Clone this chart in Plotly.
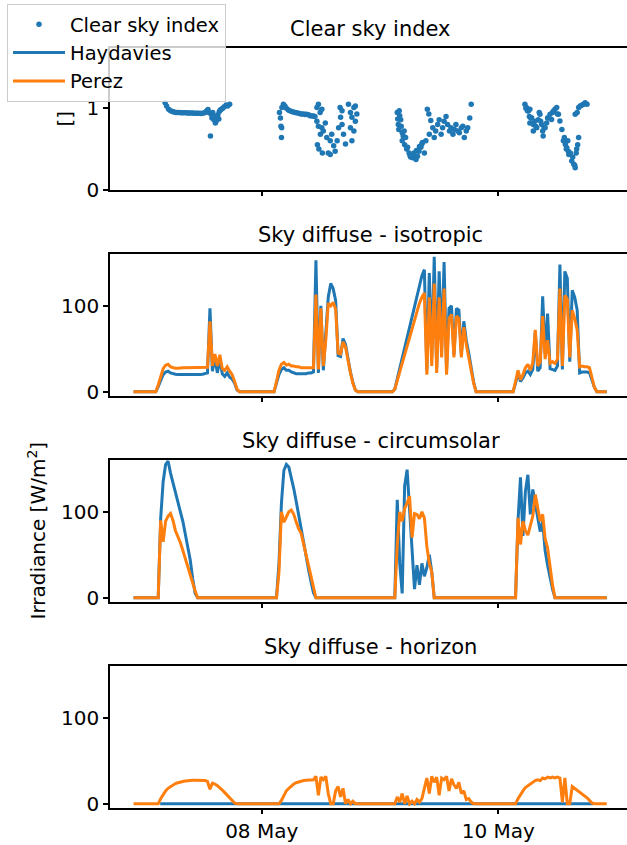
import numpy as np
import pandas as pd
import plotly.graph_objects as go

# ---------------- data (hours after 2019-05-07 00:00) ----------------
BASE = pd.Timestamp("2019-05-07 00:00")
day_windows = [(2.0, 19.5), (26.0, 43.5), (50.5, 68.0), (74.5, 92.5)]
hours = [-2.0]
for a, b in day_windows:
    hours += list(np.arange(a, b + 0.01, 0.5))
hours += [94.0]

iso_perez = ([0] +
    [0, 0, 8, 18, 27, 31, 32, 29, 28, 27.5, 27.5, 28, 28, 28, 28, 28, 28, 28, 28, 28, 28, 28, 28.5, 82, 30, 44, 30, 43, 27, 25, 29, 24, 20, 12, 3, 0] +
    [0, 0, 12, 25, 32, 34, 31, 32, 30, 30, 29, 29, 28, 28, 28, 28, 28, 28, 113, 26, 97, 30, 60, 103, 100, 104, 96, 45, 44, 58, 52, 35, 22, 10, 2, 0] +
    [0, 3, 13, 24, 33, 45, 55, 65, 75, 85, 93, 103, 110, 115, 20, 110, 30, 126, 22, 110, 40, 120, 20, 85, 90, 40, 88, 85, 40, 75, 55, 40, 25, 10, 0, 0] +
    [0, 0, 12, 25, 14, 20, 28, 32, 25, 34, 72, 30, 35, 88, 38, 60, 33, 35, 33, 38, 120, 30, 112, 108, 40, 95, 85, 72, 29, 30, 29, 29, 28, 15, 5, 0, 0] +
    [0])
iso_haydavies = ([0] +
    [0, 0, 6, 14, 20, 23, 24, 22, 21, 20.5, 20, 20, 19.5, 19.5, 19.5, 19.5, 19.5, 20, 20, 20, 20.5, 21, 22, 97, 24, 40, 22, 38, 21, 18, 22, 17, 15, 10, 2, 0] +
    [0, 0, 10, 20, 26, 28, 25, 25, 23, 22, 21, 21, 21, 21, 21, 22, 22, 23, 153, 22, 100, 25, 65, 110, 126, 120, 106, 42, 41, 62, 55, 37, 23, 11, 2, 0] +
    [0, 3, 15, 28, 40, 52, 63, 74, 86, 98, 110, 122, 135, 142, 25, 138, 40, 157, 28, 140, 50, 151, 25, 97, 100, 43, 97, 95, 44, 82, 60, 45, 27, 11, 0, 0] +
    [0, 0, 10, 22, 12, 16, 22, 24, 20, 26, 70, 24, 28, 111, 45, 91, 27, 26, 25, 30, 148, 26, 140, 132, 35, 118, 110, 95, 22, 23, 23, 23, 22, 13, 5, 0, 0] +
    [0])

circ_perez = ([0] +
    [0, 0, 0, 90, 65, 89, 95, 98, 90, 78, 72, 64, 55, 45, 35, 26, 18, 8, 0, 0, 0, 0, 0, 0, 0, 0, 0, 0, 0, 0, 0, 0, 0, 0, 0, 0] +
    [0, 0, 0, 30, 100, 88, 95, 100, 102, 97, 88, 80, 75, 62, 50, 37, 24, 11, 0, 0, 0, 0, 0, 0, 0, 0, 0, 0, 0, 0, 0, 0, 0, 0, 0, 0] +
    [0, 0, 62, 100, 89, 104, 110, 118, 70, 98, 97, 92, 100, 93, 60, 40, 30, 0, 0, 0, 0, 0, 0, 0, 0, 0, 0, 0, 0, 0, 0, 0, 0, 0, 0, 0] +
    [0, 0, 0, 93, 62, 89, 78, 73, 85, 95, 120, 105, 89, 97, 69, 58, 35, 15, 0, 0, 0, 0, 0, 0, 0, 0, 0, 0, 0, 0, 0, 0, 0, 0, 0, 0, 0] +
    [0])
circ_haydavies = ([0] +
    [0, 0, 0, 92, 135, 155, 159, 145, 133, 123, 112, 100, 89, 75, 60, 44, 22, 5, 0, 0, 0, 0, 0, 0, 0, 0, 0, 0, 0, 0, 0, 0, 0, 0, 0, 0] +
    [0, 0, 0, 40, 110, 148, 155, 152, 140, 127, 112, 96, 80, 64, 46, 33, 19, 6, 0, 0, 0, 0, 0, 0, 0, 0, 0, 0, 0, 0, 0, 0, 0, 0, 0, 0] +
    [0, 0, 114, 40, 5, 130, 149, 100, 55, 10, 38, 15, 40, 25, 35, 50, 30, 0, 0, 0, 0, 0, 0, 0, 0, 0, 0, 0, 0, 0, 0, 0, 0, 0, 0, 0] +
    [0, 0, 0, 90, 140, 72, 124, 143, 97, 126, 108, 95, 77, 89, 55, 38, 23, 10, 0, 0, 0, 0, 0, 0, 0, 0, 0, 0, 0, 0, 0, 0, 0, 0, 0, 0, 0] +
    [0])

horizon_perez = ([0] +
    [0, 0, 0, 6, 11, 15, 18, 20, 22, 23.5, 24.5, 25.5, 26, 26.5, 27, 27, 27.5, 27.5, 27.5, 27.5, 27, 27, 26, 17, 24, 23, 21, 19, 16, 13, 10, 7, 4, 1, 0, 0] +
    [0, 0, 0, 0, 4, 10, 15, 18, 21, 23, 24.5, 25.5, 26.5, 27, 27.5, 27.5, 28, 28, 32, 10, 31, 28, 32, 12, 0, 0, 15, 20, 8, 18, 0, 5, 0, 3, 0, 0] +
    [0, 0, 8, 2, 12, 0, 9, 0, 3, 0, 5, 2, 6, 20, 30, 12, 32, 25, 31, 10, 30, 28, 32, 15, 29, 22, 18, 25, 12, 15, 5, 6, 2, 0, 0, 0] +
    [0, 0, 0, 6, 11, 15, 19, 21, 24, 25, 27, 28, 27, 30, 29, 31, 30, 31, 30, 31, 30, 2, 30, 0, 0, 20, 18, 16, 14, 12, 9, 7, 4, 1, 0, 0, 0] +
    [0])
hd_horizon_hours = [3.4, 91.2]
horizon_haydavies = [0, 0]

csi_hours = [
    4.4, 4.7, 5.1, 5.5, 5.9, 6.2, 6.6, 6.9, 7.3, 7.6, 8.0, 8.3, 8.7, 9.0, 9.3, 9.6, 10.0, 10.3, 10.7, 11.0,
    11.4, 11.7, 12.0, 12.4, 12.8, 13.1, 13.25, 13.6, 13.7, 13.9, 14.05, 14.3, 14.45, 14.6, 14.75, 14.9, 15.1,
    15.3, 15.4, 15.6, 15.8, 16.1, 16.4, 16.8, 17.1, 17.5,
    27.6, 27.8, 27.9, 28.0, 28.05, 28.1, 28.4, 28.7, 29.0, 29.4, 29.7, 30.1, 30.4, 30.8, 31.1, 31.5, 31.8,
    32.1, 32.5, 32.8, 33.1, 33.5, 33.8, 34.2, 34.5, 34.8, 35.2, 35.2, 35.3, 35.5, 35.5, 35.6, 35.85, 35.9,
    36.2, 36.2, 36.3, 36.5, 36.9, 37.2, 37.5, 37.9, 37.9, 38.2, 38.6, 38.9, 39.3, 39.6, 39.9, 40.0, 40.3,
    40.3, 40.6, 41.0, 41.6, 42.0, 42.0, 42.3, 42.3, 42.7, 43.0, 42.7, 43.0, 43.3,
    51.5, 51.6, 51.7, 51.8, 51.9, 52.0, 52.2, 52.3, 52.5, 52.5, 52.7, 52.9, 53.0, 53.2, 53.4, 53.6, 53.9,
    54.1, 54.2, 54.6, 54.8, 54.9, 55.3, 55.4, 55.6, 55.9, 56.0, 56.3, 56.5, 56.6, 57.0, 57.3, 57.6, 57.9,
    58.0, 58.3, 58.7, 59.0, 59.3, 59.7, 60.0, 60.4, 60.7, 61.0, 61.4, 61.7, 62.1, 62.4, 62.8, 63.1, 63.4,
    63.8, 64.1, 64.5, 64.8, 65.1, 65.5, 65.8, 66.2, 66.5,
    77.4, 77.6, 77.7, 77.9, 78.1, 78.3, 78.4, 78.4, 78.6, 78.75, 79.1, 79.1, 79.4, 79.6, 79.8, 80.1, 80.3,
    80.45, 80.6, 80.8, 81.0, 81.1, 81.3, 81.5, 81.8, 82.0, 82.15, 82.5, 82.8, 83.0, 83.2, 83.5, 83.85, 84.0,
    84.2, 84.5, 84.9, 85.2, 85.4, 85.6, 85.8, 85.9, 86.1, 86.2, 86.3, 86.6, 86.9, 87.1, 87.3, 87.5, 87.6,
    87.8, 87.9, 88.1, 88.3, 87.6, 88.0, 88.3, 88.6, 89.0, 89.3, 89.6, 90.0]
csi_values = [
    1.07, 1.03, 0.99, 0.97, 0.96, 0.955, 0.95, 0.95, 0.948, 0.947, 0.946, 0.945, 0.945, 0.944, 0.943, 0.943,
    0.942, 0.94, 0.94, 0.94, 0.94, 0.938, 0.94, 0.945, 0.967, 0.985, 0.95, 0.66, 0.93, 0.88, 0.95, 0.86, 0.9,
    0.82, 0.84, 0.88, 0.92, 0.87, 0.96, 0.98, 0.99, 1.0, 1.02, 1.04, 1.03, 1.05,
    0.95, 0.88, 0.78, 0.64, 0.76, 1.01, 1.05, 1.03, 1.0, 0.98, 0.97, 0.96, 0.955, 0.95, 0.945, 0.94, 0.935,
    0.93, 0.93, 0.925, 0.926, 0.92, 0.91, 0.905, 0.905, 0.9, 1.01, 0.84, 0.55, 1.05, 0.78, 0.5, 0.95, 0.68,
    0.99, 0.76, 0.45, 0.72, 0.82, 0.64, 0.45, 0.6, 0.43, 0.68, 0.54, 0.47, 0.6, 0.76, 1.01, 0.89, 0.8,
    0.97, 0.68, 0.56, 1.05, 0.95, 0.76, 0.89, 0.6, 0.72, 0.84, 1.01, 1.03, 0.93,
    0.95, 0.87, 0.8, 0.74, 0.97, 0.91, 0.86, 0.78, 0.7, 0.6, 0.66, 0.72, 0.55, 0.64, 0.5, 0.52, 0.45,
    0.42, 0.4, 0.39, 0.43, 0.45, 0.37, 0.48, 0.41, 0.47, 0.53, 0.52, 0.56, 0.58, 0.45, 0.6, 0.99, 0.93,
    0.68, 0.85, 0.76, 0.64, 0.72, 0.8, 0.86, 0.68, 0.76, 0.84, 0.9, 0.8, 0.72, 0.76, 0.68, 0.74, 0.8,
    0.72, 0.7, 0.76, 0.78, 0.64, 0.72, 0.76, 0.88, 1.05,
    1.05, 1.0, 1.01, 0.97, 0.967, 0.9, 0.988, 0.82, 0.88, 0.885, 0.8, 0.72, 0.84, 0.78, 0.76, 0.86, 0.95,
    0.926, 0.84, 0.8, 0.72, 0.66, 0.76, 0.76, 0.82, 0.88, 0.885, 0.926, 0.864, 0.95, 0.967, 0.988, 1.01, 0.93,
    0.926, 0.844, 0.74, 0.6, 0.64, 0.556, 0.5, 0.515, 0.6, 0.47, 0.43, 0.45, 0.35, 0.4, 0.31, 0.3, 0.268,
    0.45, 0.5, 0.55, 0.64, 0.926, 0.95, 1.01, 1.03, 1.04, 1.05, 1.07, 1.05]

panel_titles = ["Clear sky index", "Sky diffuse - isotropic",
                "Sky diffuse - circumsolar", "Sky diffuse - horizon"]
x_tick_dates = ["2019-05-08", "2019-05-10"]
x_tick_text = ["08 May", "10 May"]

# ---------------- figure ----------------
BLUE = "#1f77b4"
ORANGE = "#ff7f0e"
W, H = 627, 845
FONT = "DejaVu Sans"
LW = 3


def to_time(hs):
    return BASE + pd.to_timedelta(np.asarray(hs, dtype=float), unit="h")


t = to_time(hours)
fig = go.Figure()

fig.add_trace(go.Scatter(x=to_time(csi_hours), y=csi_values, mode="markers",
                         marker=dict(color=BLUE, size=5.5), name="Clear sky index",
                         xaxis="x", yaxis="y"))
fig.add_trace(go.Scatter(x=t, y=iso_haydavies, mode="lines", line=dict(color=BLUE, width=LW),
                         name="Haydavies", xaxis="x2", yaxis="y2"))
fig.add_trace(go.Scatter(x=t, y=iso_perez, mode="lines", line=dict(color=ORANGE, width=LW),
                         name="Perez", xaxis="x2", yaxis="y2"))
fig.add_trace(go.Scatter(x=t, y=circ_haydavies, mode="lines", line=dict(color=BLUE, width=LW),
                         name="Haydavies", showlegend=False, xaxis="x3", yaxis="y3"))
fig.add_trace(go.Scatter(x=t, y=circ_perez, mode="lines", line=dict(color=ORANGE, width=LW),
                         name="Perez", showlegend=False, xaxis="x3", yaxis="y3"))
fig.add_trace(go.Scatter(x=to_time(hd_horizon_hours), y=horizon_haydavies, mode="lines",
                         line=dict(color=BLUE, width=LW),
                         name="Haydavies", showlegend=False, xaxis="x4", yaxis="y4"))
fig.add_trace(go.Scatter(x=t, y=horizon_perez, mode="lines", line=dict(color=ORANGE, width=LW),
                         name="Perez", showlegend=False, xaxis="x4", yaxis="y4"))

# panel geometry in pixels (top, bottom)
panels = [(47.5, 189.5), (253.5, 395.5), (459.5, 601.5), (665.5, 807.5)]
x_left_px = 110
x_range = [to_time([-6.78])[0], to_time([98.11])[0]]

axis_common = dict(showline=True, linecolor="black", linewidth=1.5, ticks="outside",
                   ticklen=5, tickwidth=1.5, tickcolor="black", showgrid=False,
                   zeroline=False, automargin=False,
                   tickfont=dict(family=FONT, size=20, color="black"))

layout = dict(width=W, height=H, margin=dict(l=0, r=0, t=0, b=0, pad=0, autoexpand=False),
              paper_bgcolor="white", plot_bgcolor="white",
              font=dict(family=FONT, size=20, color="black"))
y_ranges = [[0, 1.75], [-4.3, 160.8], [-4.3, 160.8], [-4.3, 160.8]]
y_ticks = [[0, 1], [0, 100], [0, 100], [0, 100]]
for i, (top, bot) in enumerate(panels):
    k = "" if i == 0 else str(i + 1)
    layout["xaxis" + k] = dict(axis_common, type="date", domain=[x_left_px / W, 1],
                               anchor="y" + k, range=x_range, mirror=True,
                               tickvals=x_tick_dates, ticktext=x_tick_text,
                               showticklabels=(i == 3))
    if i > 0:
        layout["xaxis" + k]["matches"] = "x"
    layout["yaxis" + k] = dict(axis_common, domain=[1 - bot / H, 1 - top / H],
                               anchor="x" + k, range=y_ranges[i], tickvals=y_ticks[i])

annotations = []
x_center = (x_left_px + 631) / 2 / W
for i, (top, bot) in enumerate(panels):
    annotations.append(dict(text=panel_titles[i], xref="paper", yref="paper",
                            x=x_center, y=1 - (top - 19) / H, xanchor="center",
                            yanchor="middle", showarrow=False,
                            font=dict(family=FONT, size=21, color="black")))
annotations.append(dict(text="[]", xref="paper", yref="paper", x=64 / W,
                        y=1 - (sum(panels[0]) / 2) / H, textangle=-90, showarrow=False,
                        xanchor="center", yanchor="middle",
                        font=dict(family=FONT, size=20, color="black")))
annotations.append(dict(text="Irradiance [W/m<sup>2</sup>]", xref="paper", yref="paper",
                        x=36 / W, y=1 - (sum(panels[2]) / 2) / H, textangle=-90,
                        showarrow=False, xanchor="center", yanchor="middle",
                        font=dict(family=FONT, size=20, color="black")))
layout["annotations"] = annotations
layout["legend"] = dict(x=7 / W, y=1 - 4 / H, xanchor="left", yanchor="top",
                        bgcolor="rgba(255,255,255,0.8)", bordercolor="#cccccc",
                        borderwidth=1, font=dict(family=FONT, size=19.5, color="black"),
                        itemwidth=52, tracegroupgap=0)
fig.update_layout(**layout)
fig.write_html("out.html")
